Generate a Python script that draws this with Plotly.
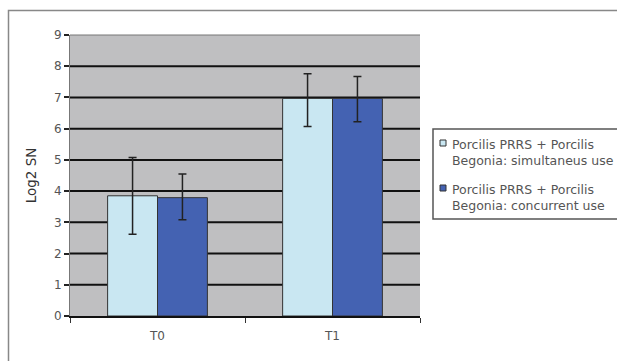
import plotly.graph_objects as go

categories = ["T0", "T1"]
series_names = ["Porcilis PRRS + Porcilis<br>Begonia: simultaneus use",
                "Porcilis PRRS + Porcilis<br>Begonia: concurrent use"]
simultaneous = [3.85, 6.97]
simultaneous_err_plus = [1.23, 0.79]
simultaneous_err_minus = [1.23, 0.90]
concurrent = [3.79, 6.97]
concurrent_err_plus = [0.76, 0.70]
concurrent_err_minus = [0.71, 0.75]
y_ticks = [0, 1, 2, 3, 4, 5, 6, 7, 8, 9]
grid_values = [1, 2, 3, 4, 5, 6, 7, 8]

colors = ["#C9E7F2", "#4462B2"]
FONT = "DejaVu Sans, Verdana, sans-serif"

fig = go.Figure()
fig.add_trace(go.Bar(
    x=categories, y=simultaneous, name=series_names[0], showlegend=False,
    marker=dict(color=colors[0], line=dict(color="#333333", width=1)),
    error_y=dict(type="data", symmetric=False, array=simultaneous_err_plus,
                 arrayminus=simultaneous_err_minus, color="#222222", thickness=1.5, width=4),
))
fig.add_trace(go.Bar(
    x=categories, y=concurrent, name=series_names[1], showlegend=False,
    marker=dict(color=colors[1], line=dict(color="#333333", width=1)),
    error_y=dict(type="data", symmetric=False, array=concurrent_err_plus,
                 arrayminus=concurrent_err_minus, color="#222222", thickness=1.5, width=4),
))

L, R, T, B = 70, 197, 35, 45
W, H = 617, 361
pw, ph = W - L - R, H - T - B

def px(x):
    return (x - L) / pw

def py(y):
    return (H - B - y) / ph

shapes = [
    # outer chart frame
    dict(type="rect", xref="paper", yref="paper",
         x0=px(8.5), x1=px(640), y0=py(10.5), y1=py(400),
         line=dict(color="#888888", width=1.5), fillcolor="rgba(0,0,0,0)", layer="below"),
    # top edge of plot area
    dict(type="line", xref="paper", yref="paper", x0=0, x1=1, y0=1, y1=1,
         line=dict(color="#777777", width=1), layer="below"),
]
for g in grid_values:
    shapes.append(dict(type="line", xref="paper", yref="y", x0=0, x1=1, y0=g, y1=g,
                       line=dict(color="#111111", width=2), layer="below"))

# manual legend
leg_x0, leg_y0, leg_y1 = 433, 129, 219
shapes.append(dict(type="rect", xref="paper", yref="paper",
                   x0=px(leg_x0), x1=px(660), y0=py(leg_y0), y1=py(leg_y1),
                   line=dict(color="#555555", width=1.5), fillcolor="white"))
row_y = [143, 188]
annotations = []
for i, name in enumerate(series_names):
    cy = row_y[i]
    shapes.append(dict(type="rect", xref="paper", yref="paper",
                       x0=px(440), x1=px(446), y0=py(cy - 3), y1=py(cy + 3),
                       line=dict(color="#333333", width=1), fillcolor=colors[i]))
    annotations.append(dict(
        xref="paper", yref="paper", x=px(450), y=py(cy - 8), xanchor="left", yanchor="top",
        text=name, showarrow=False, align="left",
        font=dict(family=FONT, size=12.5, color="#555555"),
    ))

fig.update_layout(
    width=W, height=H,
    margin=dict(l=L, r=R, t=T, b=B, autoexpand=False),
    paper_bgcolor="white",
    plot_bgcolor="#BFBFC1",
    barmode="group",
    bargap=0.43,
    bargroupgap=0,
    font=dict(family=FONT, size=12, color="#444444"),
    showlegend=False,
    xaxis=dict(
        showgrid=False, ticks="outside", tickson="boundaries", ticklen=5,
        tickcolor="#333333", showline=True, linecolor="#111111", linewidth=2,
        tickfont=dict(family=FONT, size=12, color="#555555"), automargin=False,
        ticklabelstandoff=8,
    ),
    yaxis=dict(
        range=[0, 9], tickvals=y_ticks, showgrid=False,
        ticks="outside", ticklen=5, tickcolor="#222222", tickwidth=2, showline=True,
        linecolor="#777777", linewidth=1, zeroline=False,
        tickfont=dict(family=FONT, size=12, color="#555555"), automargin=False,
        title=dict(text="Log2 SN", font=dict(family=FONT, size=13.5, color="#333333"), standoff=14),
    ),
    shapes=shapes,
    annotations=annotations,
)

fig.write_html("out.html", config={"displayModeBar": False},
               post_script="document.body.style.margin='0';")
